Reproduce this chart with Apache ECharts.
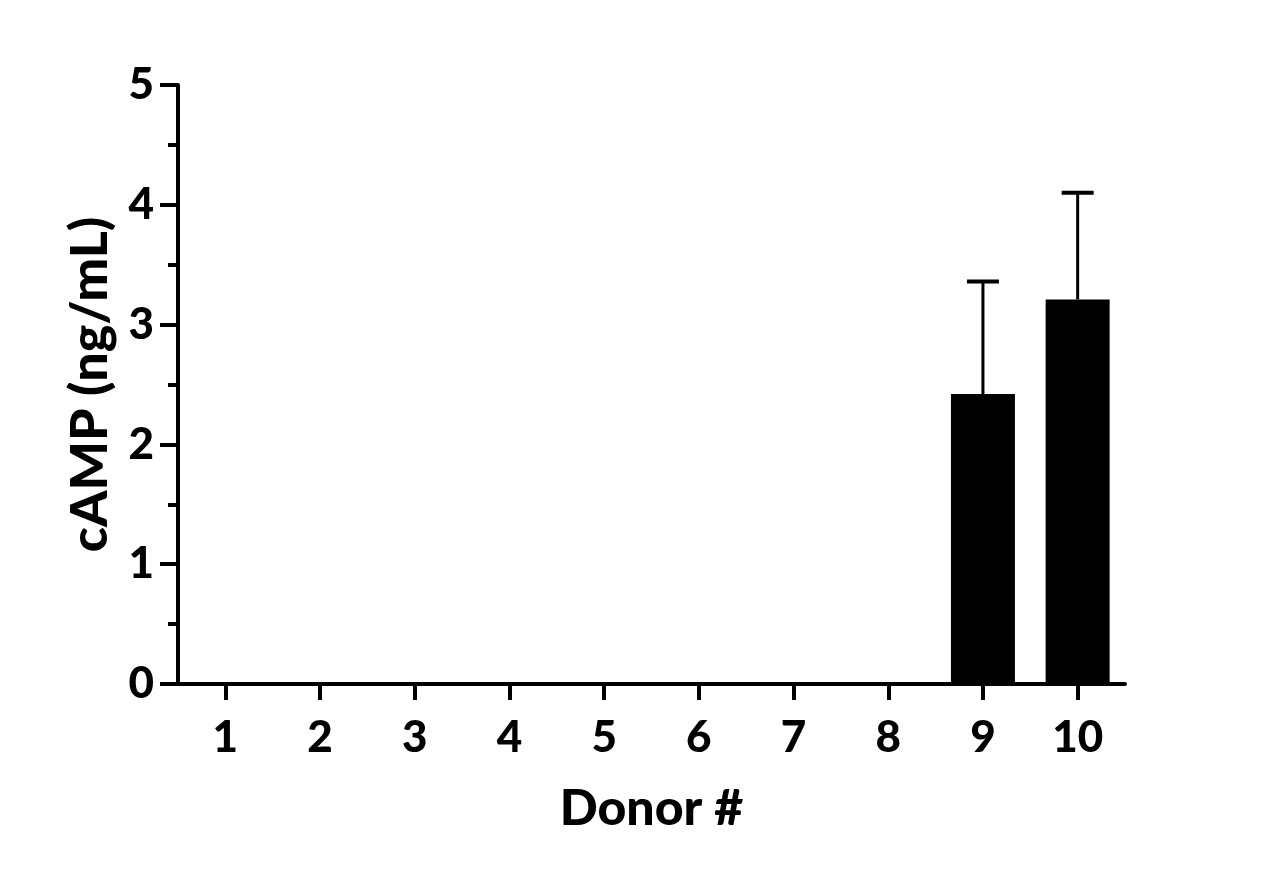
<!DOCTYPE html>
<html>
<head>
<meta charset="utf-8">
<script src="https://cdn.jsdelivr.net/npm/echarts@6/dist/echarts.min.js"></script>
<style>html,body{margin:0;padding:0;background:#fff}#c{width:1261px;height:878px}</style>
</head>
<body>
<div id="c"></div>
<script>
const categories = ['1','2','3','4','5','6','7','8','9','10'];
const means = [0, 0, 0, 0, 0, 0, 0, 0, 2.42, 3.21];
const upperErr = [0, 0, 0, 0, 0, 0, 0, 0, 3.36, 4.10];
const yTicks = [0, 1, 2, 3, 4, 5];

const FONT = 'Lato, "DejaVu Sans", sans-serif';
const chart = echarts.init(document.getElementById('c'), null, {renderer: 'canvas'});
const errData = categories.map((c, i) => [i, means[i], upperErr[i]]).filter(d => d[2] > d[1]);

chart.setOption({
  backgroundColor: '#fff',
  animation: false,
  grid: {left: 178, right: 136, top: 85, bottom: 194, containLabel: false},
  xAxis: {
    type: 'category',
    data: categories,
    name: 'Donor #',
    nameLocation: 'middle',
    nameGap: 100,
    nameTextStyle: {fontFamily: FONT, fontWeight: 900, fontSize: 50, color: '#000'},
    axisLine: {lineStyle: {color: '#000', width: 4}},
    axisTick: {show: true, alignWithLabel: true, length: 16, lineStyle: {color: '#000', width: 4}},
    axisLabel: {fontFamily: FONT, fontWeight: 900, fontSize: 44, color: '#000', margin: 32},
    splitLine: {show: false}
  },
  yAxis: {
    type: 'value',
    min: 0, max: 5, interval: 1,
    name: 'cAMP (ng/mL)',
    nameLocation: 'middle',
    nameGap: 62,
    nameRotate: 90,
    nameTextStyle: {fontFamily: FONT, fontWeight: 900, fontSize: 52, color: '#000'},
    axisLine: {show: true, lineStyle: {color: '#000', width: 4}},
    axisTick: {show: true, length: 18, lineStyle: {color: '#000', width: 4}},
    minorTick: {show: true, splitNumber: 2, length: 10, lineStyle: {color: '#000', width: 4}},
    axisLabel: {fontFamily: FONT, fontWeight: 900, fontSize: 44, color: '#000', margin: 24,
      formatter: v => yTicks.includes(v) ? String(v) : ''},
    splitLine: {show: false}
  },
  series: [
    {
      type: 'custom',
      z: 1,
      data: errData,
      renderItem: function (params, api) {
        const x = api.value(0);
        const lo = api.coord([x, api.value(1)]);
        const hi = api.coord([x, api.value(2)]);
        const half = 16;
        return {
          type: 'group',
          children: [
            {type: 'line', shape: {x1: lo[0], y1: lo[1], x2: hi[0], y2: hi[1]}, style: {stroke: '#000', lineWidth: 3}},
            {type: 'line', shape: {x1: hi[0] - half, y1: hi[1], x2: hi[0] + half, y2: hi[1]}, style: {stroke: '#000', lineWidth: 4}}
          ]
        };
      }
    },
    {
      type: 'bar',
      z: 2,
      data: means,
      barWidth: 64,
      itemStyle: {color: '#000'}
    }
  ]
});
</script>
</body>
</html>
